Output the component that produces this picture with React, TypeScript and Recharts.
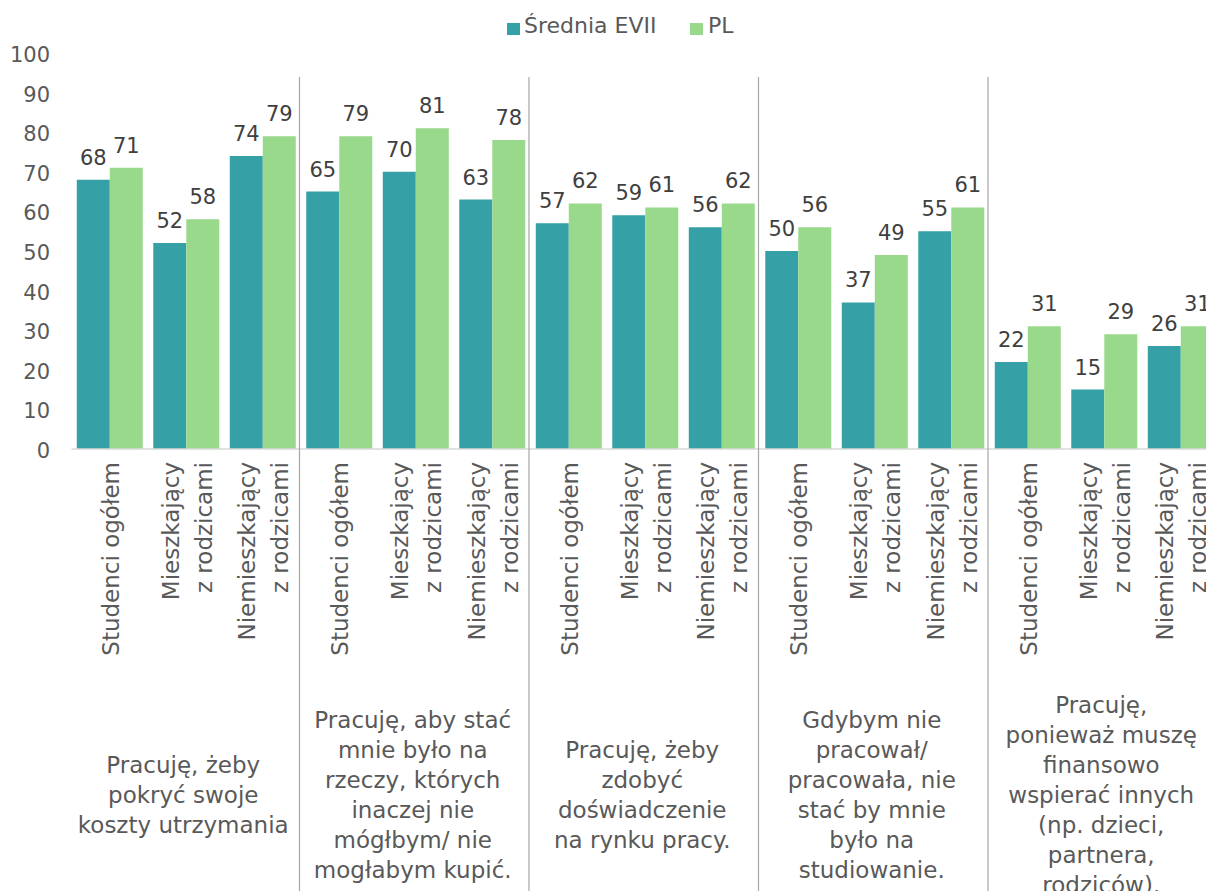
import React from "react";
import { Bar, BarChart, LabelList, XAxis, YAxis } from "recharts";

const categories = [
    "Studenci ogółem",
    "Mieszkający\nz rodzicami",
    "Niemieszkający\nz rodzicami",
    "Studenci ogółem",
    "Mieszkający\nz rodzicami",
    "Niemieszkający\nz rodzicami",
    "Studenci ogółem",
    "Mieszkający\nz rodzicami",
    "Niemieszkający\nz rodzicami",
    "Studenci ogółem",
    "Mieszkający\nz rodzicami",
    "Niemieszkający\nz rodzicami",
    "Studenci ogółem",
    "Mieszkający\nz rodzicami",
    "Niemieszkający\nz rodzicami",
];

const groupLabels = [
    ["Pracuję, żeby", "pokryć swoje", "koszty utrzymania"],
    ["Pracuję, aby stać", "mnie było na", "rzeczy, których", "inaczej nie", "mógłbym/ nie", "mogłabym kupić."],
    ["Pracuję, żeby", "zdobyć", "doświadczenie", "na rynku pracy."],
    ["Gdybym nie", "pracował/", "pracowała, nie", "stać by mnie", "było na", "studiowanie."],
    ["Pracuję,", "ponieważ muszę", "finansowo", "wspierać innych", "(np. dzieci,", "partnera,", "rodziców)."],
];

const sredniaEvii = [68, 52, 74, 65, 70, 63, 57, 59, 56, 50, 37, 55, 22, 15, 26];
const plValues = [71, 58, 79, 79, 81, 78, 62, 61, 62, 56, 49, 61, 31, 29, 31];

const yTicks = [0, 10, 20, 30, 40, 50, 60, 70, 80, 90, 100];

const data = categories.map((name, i) => ({
    id: i,
    name,
    evii: sredniaEvii[i],
    pl: plValues[i],
}));

const FONT = "'DejaVu Sans', sans-serif";
const TEAL = "#35A0A5";
const GREEN = "#99D98B";
const AXIS_TEXT = "#595959";

const CHART_W = 1240;
const CHART_H = 891;
const PLOT_LEFT = 71.5;
const PLOT_RIGHT = 1219;
const CAT_W = (PLOT_RIGHT - PLOT_LEFT) / categories.length;

const YTick = (props: any) => {
    const { y, payload } = props;
    return (
        <text x={50} y={y + 2} textAnchor="end" dominantBaseline="central" fill={AXIS_TEXT} fontSize={21} fontFamily={FONT}>
            {payload.value}
        </text>
    );
};

const XTick = (props: any) => {
    const { x, payload } = props;
    const idx = payload.index as number;
    const lines = String(categories[idx]).split("\n");
    const cx = x + 1;
    const ty = 462;
    const group = Math.floor(idx / 3);
    const label = groupLabels[group];
    return (
        <g>
            {lines.map((line, i) => {
                const lx = cx + (i - (lines.length - 1) / 2) * 33;
                return (
                    <text
                        key={i}
                        x={lx}
                        y={ty}
                        transform={`rotate(-90, ${lx}, ${ty})`}
                        textAnchor="end"
                        dominantBaseline="central"
                        fill={AXIS_TEXT}
                        fontSize={23}
                        fontFamily={FONT}
                    >
                        {line}
                    </text>
                );
            })}
            {idx % 3 === 2 && idx < categories.length - 1 && (
                <line x1={x + CAT_W / 2 - 1.5} x2={x + CAT_W / 2 - 1.5} y1={77} y2={CHART_H} stroke="#A6A6A6" strokeWidth={1.2} />
            )}
            {idx % 3 === 1 &&
                label.map((line, i) => (
                    <text
                        key={"g" + i}
                        x={x - 3}
                        y={803 + (i - (label.length - 1) / 2) * 30}
                        textAnchor="middle"
                        fill={AXIS_TEXT}
                        fontSize={23}
                        fontFamily={FONT}
                    >
                        {line}
                    </text>
                ))}
        </g>
    );
};

const LegendBox = () => {
    const text = { position: "absolute" as const, top: 13, fontFamily: FONT, fontSize: 22, color: AXIS_TEXT, whiteSpace: "nowrap" as const };
    return (
        <>
            <span style={{ position: "absolute", left: 507, top: 23, width: 13, height: 12, background: TEAL }} />
            <span style={{ ...text, left: 524 }}>Średnia EVII</span>
            <span style={{ position: "absolute", left: 690, top: 23, width: 13, height: 12, background: GREEN }} />
            <span style={{ ...text, left: 708 }}>PL</span>
        </>
    );
};

export default function App() {
    return (
        <div style={{ position: "absolute", left: 0, top: 0, width: 1206, height: 891, overflow: "hidden", background: "#fff" }}>
            <LegendBox />
            <BarChart
                width={CHART_W}
                height={CHART_H}
                data={data}
                margin={{ top: 53, right: CHART_W - PLOT_RIGHT, left: 0, bottom: 0 }}
                barCategoryGap="6.9%"
                barGap={0}
            >
                <XAxis
                    dataKey="id"
                    type="category"
                    height={CHART_H - 449}
                    tickLine={false}
                    axisLine={{ stroke: "#D9D9D9", strokeWidth: 1.5 }}
                    interval={0}
                    tick={<XTick />}
                />
                <YAxis
                    width={PLOT_LEFT}
                    domain={[0, 100]}
                    ticks={yTicks}
                    axisLine={false}
                    tickLine={false}
                    tick={<YTick />}
                />
                <Bar dataKey="evii" name="Średnia EVII" fill={TEAL} isAnimationActive={false}>
                    <LabelList dataKey="evii" position="top" offset={15} fill="#404040" fontSize={21} fontFamily={FONT} />
                </Bar>
                <Bar dataKey="pl" name="PL" fill={GREEN} isAnimationActive={false}>
                    <LabelList dataKey="pl" position="top" offset={15} fill="#404040" fontSize={21} fontFamily={FONT} />
                </Bar>
            </BarChart>
        </div>
    );
}
